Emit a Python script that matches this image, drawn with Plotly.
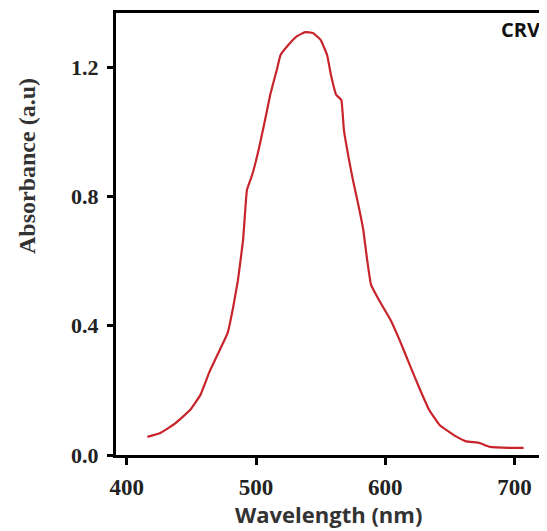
import plotly.graph_objects as go

wavelength = [416, 426, 437, 449, 457, 464, 472, 478, 482, 486, 490, 493, 497, 502, 507,
              511, 516, 519, 525, 532, 538, 544, 550, 555, 558, 562, 566, 568, 572, 575,
              580, 583, 586, 589, 595, 604, 611, 619, 627, 634, 642, 654, 662, 673, 681,
              697, 707]
absorbance = [0.056, 0.068, 0.096, 0.139, 0.186, 0.257, 0.325, 0.377, 0.45, 0.54, 0.665,
              0.82, 0.866, 0.943, 1.036, 1.114, 1.19, 1.237, 1.268, 1.296, 1.308, 1.305,
              1.284, 1.237, 1.175, 1.114, 1.098, 1.005, 0.912, 0.85, 0.758, 0.696, 0.603,
              0.526, 0.48, 0.418, 0.356, 0.278, 0.201, 0.139, 0.093, 0.059, 0.043, 0.037,
              0.025, 0.022, 0.022]
x_ticks = [400, 500, 600, 700]
y_ticks = [0.0, 0.4, 0.8, 1.2]
y_tick_text = ["0.0", "0.4", "0.8", "1.2"]

# page body has an 8px margin; figure drawn at offset (8, 8)
OFF = 8
W, H = 547 - OFF, 531 - OFF
l, r, t, b = 116 - OFF, 0, 13 - OFF, 531 - 455
pw, ph = W - l - r, H - t - b


def px(xp, yp):
    """screen pixel -> paper coords"""
    return (xp - OFF - l) / pw, (H - (yp - OFF) - b) / ph


fig = go.Figure()
fig.add_trace(go.Scatter(x=wavelength, y=absorbance, mode="lines",
                         line=dict(color="#C8242B", width=2.2, shape="spline", smoothing=0.3),
                         showlegend=False))

fig.update_layout(
    width=W, height=H,
    margin=dict(l=l, r=r, t=t, b=b, autoexpand=False),
    paper_bgcolor="white", plot_bgcolor="white",
    xaxis=dict(range=[391.7, 725.1], tickvals=x_ticks, ticks="outside", ticklen=7,
               tickwidth=3, tickcolor="black", showline=True, linewidth=3,
               linecolor="black", mirror=True, showgrid=False, zeroline=False,
               tickfont=dict(family="Liberation Serif", size=23, color="#222222",
                             weight="bold"),
               ticklabelstandoff=2, automargin=False),
    yaxis=dict(range=[0, 1.367], tickvals=y_ticks, ticktext=y_tick_text, ticks="outside",
               ticklen=6, tickwidth=3, tickcolor="black", showline=True, linewidth=3,
               linecolor="black", mirror=False, showgrid=False, zeroline=False,
               tickfont=dict(family="Liberation Serif", size=22, color="#222222",
                             weight="bold"),
               ticklabelstandoff=4, automargin=False),
)

ax, ay = px(328, 514)
fig.add_annotation(text="Wavelength (nm)", x=ax, y=ay, xref="paper", yref="paper",
                   xanchor="center", yanchor="middle", showarrow=False,
                   font=dict(family="Open Sans", size=22, color="#333333", weight="bold"))
ax, ay = px(27, 166)
fig.add_annotation(text="Absorbance (a.u)", x=ax, y=ay, xref="paper", yref="paper",
                   xanchor="center", yanchor="middle", textangle=-90, showarrow=False,
                   font=dict(family="Liberation Serif", size=24, color="#333333",
                             weight="bold"))
ax, ay = px(520, 30)
fig.add_annotation(text="CRV", x=ax, y=ay, xref="paper", yref="paper",
                   xanchor="center", yanchor="middle", showarrow=False,
                   font=dict(family="Open Sans", size=20, color="#111111", weight="bold"))

fig.write_html("out.html")
